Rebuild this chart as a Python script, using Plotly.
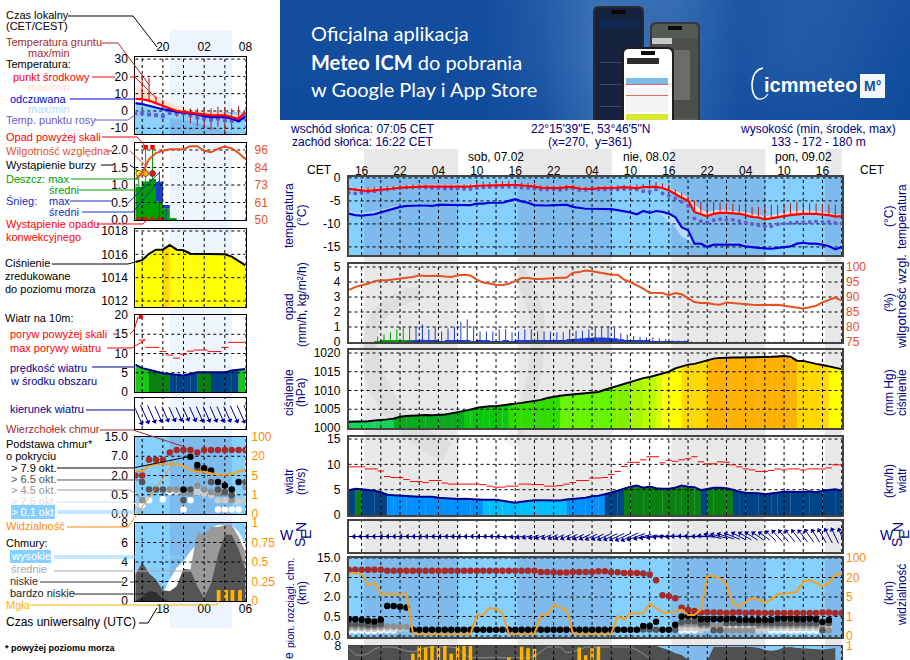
import numpy as np
import plotly.graph_objects as go

W, H = 910, 660
FONT = "Liberation Sans"

# ---------- main panel data, hourly from t=-2 (14:00 CET) to t=75 ----------
temp_mid = [-2.4,-2.6,-2.7,-2.8,-2.7,-2.6,-2.4,-2.3,-2.1,-2.0,-1.9,-1.85,
 -1.85,-1.9,-1.9,-2.0,-2.0,-1.9,-1.9,-1.9,-1.7,-1.6,
 -1.6,-1.6,-1.55,-1.5,-1.5,-1.6,-1.7,-1.9,-2.1,-2.1,
 -2.2,-2.2,-2.0,-2.0,-2.3,-2.4,-2.4,-2.2,-2.2,-2.1,
 -2.1,-2.0,-2.1,-2.2,-2.0,-1.9,-1.9,-2.2,-2.7,-3.5,
 -4.3,-4.9,-7.4,-7.9,-8.3,-7.8,-7.6,-7.6,-7.7,-7.8,
 -8.1,-8.5,-8.6,-9.0,-8.8,-8.5,-8.3,-8.1,-7.9,-7.8,
 -7.8,-7.8,-8.0,-8.1,-8.4,-8.3]
temp_max = [-2.1,-2.2,-2.3,-2.4,-2.3,-2.2,-2.0,-1.9,-1.7,-1.6,-1.5,-1.45,
 -1.45,-1.5,-1.5,-1.6,-1.6,-1.5,-1.5,-1.5,-1.4,-1.3,
 -1.3,-1.3,-1.25,-1.2,-1.2,-1.3,-1.4,-1.6,-1.8,-1.8,
 -1.9,-1.9,-1.7,-1.7,-2.0,-2.1,-2.1,-1.9,-1.9,-1.8,
 -1.8,-1.7,-1.8,-1.9,-1.7,-1.6,-1.6,-1.8,-2.2,-2.8,
 -3.4,-4.2,-5.8,-7.0,-7.4,-7.1,-7.0,-7.1,-7.2,-7.2,
 -7.4,-7.8,-8.0,-8.4,-8.1,-7.8,-7.5,-7.2,-7.1,-7.0,
 -7.1,-7.2,-7.5,-7.6,-8.0,-7.9]
feels_mid = [-7.75,-8.1,-8.2,-8.1,-7.9,-7.5,-7.1,-6.7,-6.3,-6.1,-6.0,-6.0,
 -6.0,-6.1,-5.8,-5.8,-5.9,-5.9,-5.9,-5.9,-5.6,-5.6,
 -5.4,-5.4,-5.4,-5.0,-4.6,-5.1,-5.4,-5.9,-6.0,-6.0,
 -5.9,-5.9,-5.8,-6.3,-6.5,-6.7,-6.7,-6.7,-6.7,-6.8,
 -7.0,-7.2,-7.5,-7.9,-7.2,-7.6,-7.2,-7.4,-7.75,-8.5,
 -10.7,-11.4,-14.3,-14.3,-15.0,-14.5,-14.5,-14.5,-14.4,-14.5,
 -14.9,-15.1,-15.2,-15.3,-15.4,-15.2,-15.0,-14.9,-14.3,-14.1,
 -14.3,-14.3,-14.5,-14.8,-15.5,-15.0]
feels_max = [-7.2,-7.5,-7.6,-7.5,-7.3,-6.9,-6.5,-6.2,-5.9,-5.7,-5.6,-5.6,
 -5.6,-5.7,-5.4,-5.4,-5.5,-5.5,-5.5,-5.5,-5.3,-5.3,
 -5.1,-5.1,-5.1,-4.8,-4.4,-4.8,-5.1,-5.6,-5.7,-5.7,
 -5.6,-5.6,-5.5,-6.0,-6.2,-6.4,-6.4,-6.4,-6.4,-6.5,
 -6.7,-6.9,-7.2,-7.5,-6.9,-7.2,-6.9,-7.1,-7.4,-8.2,
 -10.3,-11.0,-14.0,-14.0,-14.7,-14.2,-14.2,-14.2,-14.0,-14.1,
 -14.5,-14.8,-14.9,-15.0,-15.1,-14.9,-14.7,-14.5,-14.0,-13.8,
 -13.9,-13.9,-14.1,-14.4,-15.0,-14.6]
feels_min = [-7.85,-8.2,-8.3,-8.2,-8.0,-7.6,-7.2,-6.8,-6.4,-6.2,-6.1,-6.1,
 -6.1,-6.2,-5.9,-5.9,-6.0,-6.0,-6.0,-6.0,-5.7,-5.7,
 -5.5,-5.5,-5.5,-5.1,-4.7,-5.2,-5.5,-6.0,-6.1,-6.1,
 -6.0,-6.0,-5.9,-6.4,-6.6,-6.8,-6.8,-6.8,-6.8,-6.9,
 -7.1,-7.3,-7.6,-8.0,-7.4,-7.7,-7.4,-8.2,-9.6,-10.7,
 -12.8,-13.5,-14.4,-14.4,-15.1,-14.6,-14.6,-14.6,-14.5,-14.6,
 -15.0,-15.2,-15.3,-15.4,-15.5,-15.3,-15.1,-15.0,-14.4,-14.2,
 -14.4,-14.4,-14.6,-14.9,-15.6,-15.1]
dew_point = [-3.2,-3.4,-3.2,-3.0,-2.9,-2.7,-2.5,-2.3,-2.2,-2.1,-2.1,-2.1,
 -2.1,-2.2,-2.2,-2.3,-2.3,-2.3,-2.4,-2.4,-2.2,-2.1,
 -2.0,-2.0,-2.0,-1.9,-2.0,-2.1,-2.2,-2.3,-2.5,-2.5,
 -2.5,-2.6,-2.4,-2.3,-2.6,-2.6,-2.5,-2.5,-2.5,-2.5,
 -2.5,-2.4,-2.4,-2.5,-2.9,-3.0,-2.5,-3.4,-3.9,-4.5,
 -5.2,-6.1,-8.8,-9.4,-9.7,-9.2,-9.0,-9.1,-9.1,-9.4,
 -9.7,-10.0,-10.3,-10.5,-10.5,-10.1,-9.9,-9.8,-9.7,-9.6,
 -9.6,-9.5,-9.6,-9.6,-9.8,-9.9]
ground_max = [-2.0,-2.1,-2.1,-2.1,-2.0,-2.0,-1.8,-1.8,-1.6,-1.5,-1.4,-1.4,
 -1.4,-1.5,-1.5,-1.5,-1.5,-1.5,-1.4,-1.4,-0.9,-0.8,
 -0.9,-0.8,-0.7,-0.6,-0.7,-1.0,-1.1,-1.3,-1.6,-1.6,
 -1.7,-1.7,-1.5,-1.5,-1.8,-1.9,-1.9,-1.8,-1.8,-1.7,
 -1.6,-1.5,-1.5,-1.4,-1.3,-1.0,-0.9,-1.2,-1.5,-2.5,
 -3.2,-4.0,-4.9,-5.2,-5.2,-5.2,-5.4,-5.5,-5.6,-5.8,
 -6.0,-6.3,-6.3,-6.2,-5.8,-5.8,-5.6,-5.5,-5.2,-5.3,
 -5.5,-5.6,-5.7,-5.8,-5.8,-5.9]
humidity = [92.4,93.3,93.9,94.4,95.3,95.6,95.6,95.8,96.1,96.4,96.7,97.2,
 97,97,97.1,96.8,96.7,97.2,97.4,97.2,95.8,94.8,
 94.4,94.1,93.9,94.4,95.3,96.3,96.3,96,96,96.2,
 96.3,96.4,96.4,98.1,98.3,98.8,98.6,98.3,97.8,97.4,
 97.4,95.8,95,93.9,92.8,91.4,91.4,91.3,90.6,91.3,
 90.9,89.7,88.3,88,88,87.6,87.4,88.2,88,87.7,
 87.4,87.4,87.3,87.3,87.4,87.4,87.1,86.8,86.4,86.2,
 86.6,87.1,88.2,89.1,89.8,88.8]
rain_max = [0,0,0,0,.37,.5,.65,.82,.95,1.07] + [0]*68
rain_mean = [0,0,0,0,.02,.1,.1,.1,.12,.1] + [0]*68
snow_max = [0]*10 + [1.0,1.17,.85,1.0,.7,.9,1.0,1.35,1.5,1.05,.7,.7,.7,.85,.85,.65,.7,.85,.85,.7,.7,.7,.65,.65,
 .85,.75,.75,.85,1.0,1.05,1.0,.95,.6,.5,.4,.35,.3,.3,.25,.2,.1,.1,.1,.05,.03,.03,.03,.03,.03,.03,.03,.03,
 .03,.03,.03,.03,.03,.03,.02,.02,.02,.02,.02,.02,.02,.02,.02,.02]
snow_mean = [0]*9 + [.03,.12,.15,.12,.08,.03,.08,.08,.1,.1,.05,.08,.07,.05,.05,.07,.06,.08,.1,.1,.12,.13,.14,.14,
 .14,.2,.22,.25,.28,.3,.3,.28,.25,.18,.12,.1,.08,.07,.06,.05,.04,.03,.02,.01] + [0]*25
pressure = [1001.7,1001.7,1001.7,1001.8,1002,1002.1,1002.3,1002.5,1003,1003.2,1003.3,1003.5,
 1003.5,1003.4,1003.4,1003.6,1003.9,1004.2,1004.5,1004.9,1005.4,1005.7,
 1005.8,1005.8,1006.1,1006.4,1006.5,1006.7,1006.9,1007.1,1007.5,1008,
 1008.4,1008.6,1008.8,1009,1009.1,1009.2,1009.4,1009.6,1010.2,1010.7,
 1011.2,1011.8,1012.4,1012.9,1013.3,1013.6,1014,1014.5,1015,1015.9,
 1016.5,1016.9,1017.1,1017.6,1018.1,1018.5,1018.7,1018.8,1018.8,1018.8,
 1018.8,1018.8,1018.85,1018.9,1019,1019.1,1019.2,1019,1017.95,1017.9,
 1017.4,1017.1,1016.8,1016.4,1016,1015.7]
wind = [4.9,5.2,5.1,5,4.8,4.5,4.0,3.9,3.8,3.7,3.6,3.6,
 3.6,3.6,3.4,3.3,3.2,3.15,3.2,3.1,3.1,3,
 3,3,2.8,2.6,2.4,2.6,2.8,2.9,2.9,2.9,
 2.85,2.85,3.05,3.2,3.3,3.4,3.7,3.8,4.1,4.4,
 4.8,5.2,5.6,5.8,5.4,5.6,5.3,5.2,5.2,5.4,
 5.8,5.6,5.5,4.9,5.2,5.4,5.4,5.3,5,4.6,
 4.4,4.4,4.3,4.1,4.3,4.5,4.6,4.6,4.6,4.55,
 4.7,4.5,4.8,4.9,5.1,4.8]
gust = [9.5,9.5,9.5,9.1,9.1,8.7,7.6,7.4,7.4,7,6.6,6.6,
 6.4,6.8,6.8,6.3,6.1,6.1,6.1,6.1,6.1,6,
 5.7,5.5,5.5,5.7,5.7,6.1,6.1,6,6,5.7,
 5.7,5.8,6.1,6.4,6.8,6.8,7.3,7.3,7.4,8,
 8.6,9.6,10.4,10.4,10.9,11.5,11.5,10.3,10.8,10.6,
 10.9,11.1,11.5,10.5,10.1,10.1,10.5,10.4,9.9,9.5,
 9.1,8.9,8.6,8.6,8.8,9.1,8.9,9.1,9.1,8.9,
 9.1,9.1,9.1,9.3,9.9,9.9]
wind_dir = [270]*25 + [262,260,258,255,252,250,248,246,245,245,245,245,245,245,245,245,245,245,245,245,
 250,255,260,262,265,268,270,272,272,272,272,275,285,285,288,292,298,300,302,304,306,315,318,320,320,322,322,325,328,330,332,335,338]
cloud_top = [10.2]*6 + [9.8]*24 + [9.3,9.3,9.2,9.1,9.1,9.3,9.3,9.3,9.3,9.6,9.6,9.2,9.2,8.8,8.8,8.8,8.6,8.2,6.3,2.45,2.2,1.9,1.18,1.0,.92,
 .8,.82,.8,.8,.78,.8,.82,.78,.8,.78,.78,.78,.78,.78,.78,.78,.78,.78,.78,.8,.8,.78,.78]
N = None
base_79 = [.43,.43,.42,.39,.37,.42,1.3,1.3,1.25,1.2] + [.16]*36 + [.26,.26,.365,.16,.16,.29,.51,.55,.55,.43,.43,.43,.43,.43,.45,.42,.42,.41,.41,.41,.41,.45,.45,.45,.43,.43,.45,.43,.36,.41]
base_65 = [.3,.3,.3,.28,.28,.3,N,N,N,N] + [N]*36 + [.17,.17,.16,N,N,.16,.36,.38,.38,.33,.33,.15,.15,.33,.33,.33,.33,.33,.33,.33,.33,.33,.33,.33,.33,.33,.33,.33,.15,.33]
base_45 = [.24,.24,.24,.23,.23,.24,.25,.25,.24,.24] + [N]*36 + [N,N,N,N,N,N,.3,.3,.3,.27,.27,.27,.27,.14,.14,.14,.14,.14,.27,.27,.27,.27,.27,.27,.27,.27,.27,.27,.27,.14]
base_25 = [.19,.19,.19,.18,.18,.19,.19,.19,.19,.2] + [N]*36 + [N,N,N,N,N,N,.2,.2,.2,.14,.2,.2,.2,.2,.2,.2,.2,.2,.14,.14,.2,.2,.2,.2,.2,.2,.2,.2,.2,.2]
base_01 = [.14,.14,.14,.13,.13,.14,.14,.14,N,N] + [N]*36 + [N,N,N,N,N,N,.14,.14,.14,N,N,N,N,N,N,N,N,N,N,N,.14,.14,.14,.14,.14,.14,.14,.14,N,N]
visibility = [38,38,34,14,16,7.4,7.4,7.4,7.2,6.9,.17,.09,
 .09,.09,.09,.09,.09,.09,.09,.09,1.3,1.4,
 2.8,2.5,1.8,.12,.1,.1,.1,.1,1.3,1.3,
 3.4,2.8,2.3,.15,.1,.1,.1,.1,.1,.1,
 1.1,.85,1.6,1.7,1.7,3.6,2.8,1.8,1.8,2.0,
 2.4,1.3,1.3,2.4,25,27,19,15,3.6,3.1,
 4,4.8,4.5,3.8,4.5,7.4,7.4,8,9,17,
 18,16,13,16,32,32,3.1,25]
cloud_low_top = [8]*49 + [7.8,7.6,7.25,7.08,6.6,5,5,6.5,7.9,7.9,7.9,7.9,7.9,7.9,7.9,7.8,7.6,7.5,7.6,7.85,7.9,7.8,7.75,7.7,7.7,7.65,7.7,7.8]
cloud_mid_top = [7.75,7.1,7.05,7.2,7.7,7.9,7.9,7.9,7.7,7.5,7.4,7.6,7.8,7.9,7.9,7.9,7.9,7.8,7.1,6.8,6.8,6.8,6.8,6.8,6.8,6.8,6.8,6.8,6.8,6.9,7.4,7.9,7.9,7.9,7.3,7.4,7.6,7.9,7.9,7.9,7.9,7.95,7.95,7.95,7.9,7.6,7.2,6.7]
fog_hours = [8,9,10,11,12,13,14,15,16,17,23,25,26,27,34,35,36,37]
fog_values = [.9,1,.98,1,.98,1,.9,1,1,1,.85,.99,.97,.96,.98,.88,.97,.99]

main_hour_ticks = ["16","22","04","10","16","22","04","10","16","22","04","10","16"]

# ---------- legend panel sample data, hourly (17 points) ----------
lg_mid = [7,6.8,6,4.5,3,1.5,0,-.5,-1,-1.5,-2,-2.5,-2.5,-2.5,-3.5,-4.5,-.5]
lg_max = [14,13,11,9,7,5,3,2,1,.5,0,-.5,-.5,-1,-2,-2,0]
lg_feels = [4.5,4,3,2,1,.5,-.5,-1,-1.5,-2,-3,-3.5,-3.5,-3.5,-4.5,-6,-3]
lg_feels_min = [-13,-13,-13,-13,-13,-4,-4.5,-5,-6,-7,-8,-9,-10,-12,-12,-10,-5]
lg_ground_top = [N,20.9,19,8.3,6.4,.6,-.4,-.4,1.5,1.5,1.5,1.5,2.5,1.5,1.5,2.9,N]
lg_ground_bot = [N,5,5,4,2,-2.3,-3.3,-6.2,-7.1,-8.7,-9.1,-11,-9.1,-12.9,-11,-5.2,N]
lg_dew = [-1.5,-1.2,-2,-2.4,-3,-1,-1.4,-1.4,-2.4,-3.7,-4.3,-4.9,-4.3,-5.3,-5.6,-5.3,-4.3]
lg_hum = [76.8,81,90,94,95.5,96.5,96.5,96.5,98.5,98.5,95.5,94.5,96.8,98.2,97,94,90]
lg_rain = [.95,1.1,1.17,.52,.33,.05]+[0]*11
lg_snow = [0,0,0,.57,.1,0]+[0]*11
lg_rain_max = [1.33,2.08,2.08,0,0,0]+[0]*11
lg_snow_max = [0,0,0,1.38,.42,0]+[0]*11
lg_press = [1015.35,1015.5,1016.05,1016.4,1016.4,1016.8,1016.4,1016.35,1016.05,1016.05,1016.05,1016.05,1016.05,1016,1015.8,1015.4,1015.05]
lg_wind = [7.1,6.2,5.8,5.3,4.9,4.7,4.5,4.3,4.7,5.1,5.1,5.1,5.1,5.1,5.6,5.8,6.0]
lg_gust = [N,13.5,11.6,11.6,10.5,9.6,8.8,9.8,10.6,10.9,10.9,10.5,10.5,11.6,12.9,12.9,12.9]
lg_top = [2,2,6.1,6.1,6.1,8.6,9.6,9.6,9.6,8.6,9.6,9.6,9.6,9.6,9.6,9.6,9.6]
lg_79 = [N,N,N,N,N,N,N,.9,6.9,4.7,3.9,3.3,1.5,1.23,.9,1.5,N]
lg_65 = [N,1.5,.9,.9,.9,N,N,.36,.9,3.7,3.3,1.5,.9,.72,.49,N,1.5]
lg_45 = [N,.36,N,N,N,.9,.9,.59,.59,1.2,.9,.72,.64,.59,.36,N,1.1]
lg_25 = [.23,N,N,N,N,.9,.72,N,N,.72,.59,.49,.36,.36,.36,.32,.36]
lg_01 = [N,.23,.36,N,.38,.72,N,.12,.36,.72,.72,.59,.12,.12,.12,.12,N]
lg_vis = [8.3,8.3,12.5,14,14,14,14,12.5,9.4,8,8,6.8,5.5,5.5,6.2,8.3,9.4]
lg_high = [0,0,0,0,.8,2.2,3.4,4.1,5.1,5.9,5.9,7.5,7.8,7.8,7.8,7.1,5.9]
lg_midc = [0,0,0,0,0,0,0,2.6,3.2,7.1,6.8,7.6,7.6,7.8,7.8,6.6,5]
lg_low = [2.7,3.95,2.85,2.2,1.1,1,1.5,3.3,3.2,1.5,.3,1.8,4.7,6.8,6.8,5.3,3.2]
lg_vlow = [0,.4,1,.9,.2,0,0,0,0,0,0,0,0,0,0,0,0]
lg_fog_h = [12.1,13.2,14.1,15.2]
lg_fog = [.14,.14,.14,.14]

# ---------- helpers ----------
KM = [0,.5,2,7,15]; VIS = [0,1,5,20,100]; STEP = [0,1,2,3,4]
def km_u(a): return np.interp(np.array(a, dtype=float), KM, STEP)
def vis_u(a): return np.interp(np.array(a, dtype=float), VIS, STEP)
def X(p): return p / W
def Y(p): return 1 - p / H
def mids(a):
    b=np.array(a,dtype=float)
    return np.append((b[:-1]+b[1:])/2,b[-1])

fig = go.Figure()
layout = dict(width=W, height=H, margin=dict(l=0,r=0,t=0,b=0,pad=0,autoexpand=False), paper_bgcolor="white",
              plot_bgcolor="rgba(0,0,0,0)", showlegend=False, barmode="overlay",
              font=dict(family=FONT, size=12, color="black"), hovermode=False)
shapes_below, shapes_above, notes = [], [], []
axn = 0

def rect(x0,y0,x1,y1,fill,layer="below"):
    s = dict(type="rect",xref="paper",yref="paper",x0=X(x0),x1=X(x1),y0=Y(y0),y1=Y(y1),fillcolor=fill,line=dict(width=0))
    (shapes_below if layer=="below" else shapes_above).append(s)

def pth(pts,color,width=1,closed=False,fill=None,layer="above"):
    d = "M " + " L ".join(f"{X(x):.5f},{Y(y):.5f}" for x,y in pts) + (" Z" if closed else "")
    s = dict(type="path",xref="paper",yref="paper",path=d,line=dict(color=color,width=width))
    if fill: s["fillcolor"]=fill
    (shapes_below if layer=="below" else shapes_above).append(s)

def curve(d,color,width,layer="below",fill=None):
    toks=[]
    for tk in d.split():
        if tk.isalpha(): toks.append(tk)
        else:
            a,b=tk.split(","); toks.append(f"{X(float(a)):.5f},{Y(float(b)):.5f}")
    s=dict(type="path",xref="paper",yref="paper",path=" ".join(toks),line=dict(color=color,width=width))
    if fill: s["fillcolor"]=fill
    (shapes_below if layer=="below" else shapes_above).append(s)

def text(x,y,s,color="black",size=11,anchor="left",angle=0,family=FONT):
    notes.append(dict(xref="paper",yref="paper",x=X(x),y=Y(y),text=s,showarrow=False,xanchor=anchor,yanchor="middle",
                      textangle=angle,font=dict(family=family,size=size,color=color),borderpad=0,borderwidth=0))

def panel(l,r,top,bot,xr,yr,yticks,ylabels,rr=None,rticks=None,rlabels=None,rcolor="black",xticks=None,xlabels=None,xside="bottom",
          framecolor="black",framew=1,lstand=4,rstand=4,xstand=1):
    global axn
    axn += 1; n = axn; xa=f"x{n}"; ya=f"y{n}"
    layout[f"xaxis{n}"] = dict(domain=[X(l),X(r)],range=xr,anchor=ya,showgrid=False,zeroline=False,showline=True,mirror=True,
        linecolor=framecolor,linewidth=framew,ticks="",layer="above traces",side=xside,
        showticklabels=xticks is not None,tickvals=xticks,ticktext=xlabels,tickangle=0,tickfont=dict(family=FONT,size=12,color="black"),
        ticklabelstandoff=xstand)
    layout[f"yaxis{n}"] = dict(domain=[Y(bot),Y(top)],range=yr,anchor=xa,showgrid=False,zeroline=False,showline=True,mirror=True,
        linecolor=framecolor,linewidth=framew,ticks="",layer="above traces",
        showticklabels=yticks is not None,tickvals=yticks,ticktext=ylabels,tickfont=dict(family=FONT,size=12,color="black"),
        ticklabelstandoff=lstand)
    ra=None
    if rr is not None:
        axn += 1; m=axn; ra=f"y{m}"
        layout[f"yaxis{m}"] = dict(domain=[Y(bot),Y(top)],range=rr,anchor=xa,overlaying=ya,side="right",showgrid=False,zeroline=False,
            showline=False,ticks="",tickvals=rticks,ticktext=rlabels,tickfont=dict(family=FONT,size=12,color=rcolor),ticklabelstandoff=rstand)
    return xa,ya,ra

def grid(xa,ya,xt,yt,xr,yr):
    xs,ys=[],[]
    for v in xt: xs+= [v,v,None]; ys+=[yr[0],yr[1],None]
    for v in yt: xs+= [xr[0],xr[1],None]; ys+=[v,v,None]
    fig.add_trace(go.Scatter(x=xs,y=ys,mode="lines",xaxis=xa,yaxis=ya,line=dict(color="black",width=1,dash="3px,3px"),hoverinfo="skip"))

def line(x,y,xa,ya,color,w=2,dash=None):
    fig.add_trace(go.Scatter(x=x,y=y,mode="lines",xaxis=xa,yaxis=ya,line=dict(color=color,width=w,dash=dash),hoverinfo="skip"))
def band(x,hi,lo,xa,ya,color):
    fig.add_trace(go.Scatter(x=x,y=hi,mode="lines",xaxis=xa,yaxis=ya,line=dict(width=0),hoverinfo="skip"))
    fig.add_trace(go.Scatter(x=x,y=lo,mode="lines",xaxis=xa,yaxis=ya,line=dict(width=0),fill="tonexty",fillcolor=color,hoverinfo="skip"))
def dots(x,y,xa,ya,color,size=6.5,sym="circle"):
    fig.add_trace(go.Scatter(x=x,y=y,mode="markers",xaxis=xa,yaxis=ya,marker=dict(color=color,size=size,symbol=sym,line=dict(width=0)),hoverinfo="skip"))
def bars(x,y,xa,ya,colors,width=1.03,base=None):
    fig.add_trace(go.Bar(x=x,y=y,base=base,xaxis=xa,yaxis=ya,width=width,marker=dict(color=colors,line=dict(width=0)),hoverinfo="skip"))
def sticks(x,hi,lo,xa,ya,color,w=1):
    xs,ys=[],[]
    for a,b,c in zip(x,hi,lo):
        if b is None or c is None or (b==0 and c==0): continue
        xs+=[a,a,None]; ys+=[c,b,None]
    fig.add_trace(go.Scatter(x=xs,y=ys,mode="lines",xaxis=xa,yaxis=ya,line=dict(color=color,width=w),hoverinfo="skip"))
def segs(x,y,xa,ya,color,w=1):
    xs,ys=[],[]
    for a,b in zip(x,y):
        if b is None: continue
        xs+=[a-.5,a+.5,None]; ys+=[b,b,None]
    fig.add_trace(go.Scatter(x=xs,y=ys,mode="lines",xaxis=xa,yaxis=ya,line=dict(color=color,width=w),hoverinfo="skip"))
def arrows(x,spd,ang,xa,ya,pxh,col="#000090",pxm=3.0,hsize=5):
    xs,ys,hx,hy=[],[],[],[]
    for a,s,d in zip(x,spd,ang):
        r=np.radians(d); L=s*pxm
        dx=np.sin(r)*L/2/pxh; dy=np.cos(r)*L/2
        xs+=[a-dx,a+dx,None]; ys+=[-dy,dy,None]; hx.append(a+dx); hy.append(dy)
    fig.add_trace(go.Scatter(x=xs,y=ys,mode="lines",xaxis=xa,yaxis=ya,line=dict(color=col,width=1),hoverinfo="skip"))
    fig.add_trace(go.Scatter(x=hx,y=hy,mode="markers",xaxis=xa,yaxis=ya,marker=dict(symbol="triangle-up",size=hsize,color=col,angle=list(ang),line=dict(width=0)),hoverinfo="skip"))

def press_color(p):
    for lim,c in [(1002.4,"#14D25A"),(1004.4,"#0AAA1E"),(1006.4,"#0CC80C"),(1008.5,"#30DC00"),(1010.5,"#66F500"),(1012,"#80F000"),
                  (1013,"#A8F500"),(1013.7,"#BCFF00"),(1014.5,"#D8FF00"),(1016.45,"#FFFF00"),(1018,"#FFD800")]:
        if p<lim: return c
    return "#FFB000"
def wind_color(v):
    for lim,c in [(3.05,"#00BEFF"),(4.05,"#0090FF"),(5.2,"#004488"),(6.0,"#0A8010")]:
        if v<lim: return c
    return "#18C818"

# ---------- page furniture ----------
DAY, NIGHT = "#86D0FF", "#7EBBEC"
LPX=(135.3,245.5); MPX=(348.5,842.0)
def tx(t): return 361.7 + 6.4*t
SET1,RISE=0.37,15.08
night=[(SET1,RISE),(SET1+24,RISE+24),(SET1+48,RISE+48),(SET1+72,75)]
for a,b in night:
    rect(max(tx(a),280),149,min(tx(b),MPX[1]),660,"#E8E8E8")
# faint watermark swirl
wm="rgba(0,0,0,0.045)"
curve("M 367,345 Q 378,420 447,452",wm,20)
curve("M 367,350 Q 372,300 420,293",wm,14)
curve("M 513,263 Q 545,310 537,350 Q 535,395 510,445",wm,14)
rect(170,30,232,628,"#EEF4FD")
# sky fills of the blue panels
def sky_main(top,bot):
    rect(MPX[0],top,MPX[1],bot,DAY)
    for a,b in night: rect(max(tx(a),MPX[0]),top,min(tx(b),MPX[1]),bot,NIGHT)
def sky_left(top,bot):
    rect(LPX[0],top,LPX[1],bot,DAY); rect(170,top,232,bot,NIGHT)
sky_main(177,255); sky_main(558,637); sky_main(646,660)
sky_left(112,134); sky_left(437,514); sky_left(523,601)

# ---------- banner ----------
bx=[280,480,540,600,680,740,790,830,910]
bz=[[.05,.05,.35,.85,.7,.25,.35,.35,.15],[.05,.05,.3,.9,.6,.2,.35,.3,.05],[0,0,.15,.7,.5,.1,.1,.1,0]]
axn+=1; nb=axn
layout[f"xaxis{nb}"]=dict(domain=[X(280),1],range=[280,910],anchor=f"y{nb}",visible=False)
layout[f"yaxis{nb}"]=dict(domain=[Y(120),1],range=[2,0],anchor=f"x{nb}",visible=False)
fig.add_trace(go.Heatmap(x=bx,y=[0,1,2],z=bz,xaxis=f"x{nb}",yaxis=f"y{nb}",zsmooth="best",showscale=False,hoverinfo="skip",
    zmin=0,zmax=1,colorscale=[[0,"#0F4B9C"],[1,"#4379BB"]]))
def phone(x0,y0,x1,r,frame,screen):
    d=lambda a,b,rad:f"M {a+rad},{b} L {x1-(a-x0)-rad},{b} Q {x1-(a-x0)},{b} {x1-(a-x0)},{b+rad} L {x1-(a-x0)},120 L {a},120 L {a},{b+rad} Q {a},{b} {a+rad},{b} Z"
    curve(d(x0,y0,r),"rgba(0,0,0,0)",0,"above",fill=frame)
    curve(d(x0+2,y0+2,r-1),"rgba(0,0,0,0)",0,"above",fill=screen)
    rect((x0+x1)/2-7,y0+4,(x0+x1)/2+7,y0+8,"#0A0A0A","above")
phone(593,6,644,6,"#2A2A30","#15233E")
rect(600,20,638,28,"#0E2A52","above"); rect(600,62,638,63,"#3A4A66","above"); rect(600,84,638,85,"#3A4A66","above"); rect(600,106,638,107,"#3A4A66","above")
phone(650,22,700,6,"#38383C","#555A55")
rect(652,38,698,118,"#4C5048","above"); rect(665,50,690,100,"#6A6E66","above"); rect(652,38,672,44,"#C8C8C8","above")
phone(622,47,674,6,"#1E1E20","#FFFFFF")
rect(627,58,659,64,"#2D2D30","above"); rect(626,78,668,84,"#7ABBE8","above"); rect(626,84,668,85,"#E06060","above"); rect(626,88,668,112,"#F4F4F4","above"); rect(626,114,668,120,"#D8E830","above")
rect(626,95,668,96,"#D87060","above")
text(311,33,"Oficjalna aplikacja","white",20,family="Lato")
text(311,62,"<b>Meteo ICM</b> do pobrania","white",20,family="Lato")
text(311,89,"w Google Play i App Store","white",20,family="Lato")
text(764,85,"<b>icmmeteo</b>","white",20)
rect(860,74,885,98,"#F2F6FB","above")
text(872.5,86,"<b>M°</b>","#1450A0",14,"center")
curve("M 763,68 Q 753,70 752,84 Q 752,96 758,99","#FFFFFF",1.6,"above")
curve("M 758,99 Q 764,100 768,94","#FFFFFF",1.2,"above")

# ---------- header ----------
NAVY="#000080"
text(290,129,"wschód słońca: 07:05 CET",NAVY,12)
text(292,142,"zachód słońca: 16:22 CET",NAVY,12)
text(590,129,"22°15'39\"E, 53°46'5\"N",NAVY,12,"center")
text(590,142,"(x=270,  y=361)",NAVY,12,"center")
text(818,129,"wysokość (min, środek, max)",NAVY,12,"center")
text(818,142,"133 - 172 - 180 m",NAVY,12,"center")
text(496,157,"sob, 07.02","black",12,"center"); text(649.5,157,"nie, 08.02","black",12,"center"); text(803,157,"pon, 09.02","black",12,"center")
text(319,170.5,"CET","black",12,"center"); text(872,170.5,"CET","black",12,"center")

# ---------- main column ----------
t=np.arange(-2,76); xr=[-2.05,75.05]; xg=list(range(0,76,3))
ORH="#E8501E"; ORV="#FF8C00"
nb2="\u00a0\u00a0"
mf="#444444"
# temperature
ax,ay,ar=panel(*MPX,177,255,xr,[-16.76,.2],[0,-5,-10,-15],["0","-5","-10","-15"],[-16.76,.2],[0,-5,-10,-15],[nb2+nb2+"0",nb2+"-5","-10","-15"],
               xticks=list(range(0,73,6)),xlabels=main_hour_ticks,xside="top",framecolor=mf,framew=1.5,rstand=3,xstand=-5)
band(t,feels_max,feels_min,ax,ay,"#B4DEFF")
band(t,temp_max,temp_mid,ax,ay,"#FFD4D4")
grid(ax,ay,xg,[0,-5,-10,-15],xr,[-16.76,.2])
sticks(t,ground_max,temp_mid,ax,ay,"#A51E1E",1)
dots(t,dew_point,ax,ay,"#6A5ACD",4,"circle")
line(t,feels_mid,ax,ay,"#0000E0",2.2)
line(t,temp_mid,ax,ay,"#FF0000",2.2)
# precipitation + humidity
ax,ay,ar=panel(*MPX,264,342,xr,[0,5.2],[0,1,2,3,4,5],["0","1","2","3","4","5"],[75,101],[75,80,85,90,95,100],["75","80","85","90","95","100"],ORH,framecolor=mf,framew=1.5,rstand=3)
tp=t+.5
bars(tp,rain_mean,ax,ay,"#00A000")
bars(tp,snow_mean,ax,ay,"#1E3CC8")
grid(ax,ay,xg,[1,2,3,4,5],xr,[0,5.2])
sticks(tp,rain_max,[0]*78,ax,ay,"#00A000",1)
sticks(tp,snow_max,[0]*78,ax,ay,"#1E3CC8",1)
line(t,humidity,ax,ar,ORH,2)
# pressure
ax,ay,ar=panel(*MPX,350,428,xr,[1000,1020.8],[1000,1005,1010,1015,1020],["1000","1005","1010","1015","1020"],[750,765.6],[750,753.75,757.5,761.25,765],["750","754","758","761","765"],framecolor=mf,framew=1.5,rstand=3)
bars(tp,mids(pressure),ax,ay,[press_color(p) for p in pressure])
grid(ax,ay,xg,[1005,1010,1015,1020],xr,[1000,1020.8])
line(t,pressure,ax,ay,"black",2)
# wind
ax,ay,ar=panel(*MPX,437,515,xr,[0,15.4],[0,5,10,15],["0","5","10","15"],[0,55.44],[0,18,36,54],["0","18","36","54"],framecolor=mf,framew=1.5,rstand=3)
bars(tp,mids(wind),ax,ay,[wind_color(v) for v in wind])
grid(ax,ay,xg,[5,10,15],xr,[0,15.4])
segs(t,gust,ax,ay,"#FF0000",1)
line(t,wind,ax,ay,"#00008B",2)
# wind direction
ax,ay,ar=panel(*MPX,521,552,xr,[-15.5,15.5],None,None,framecolor=mf,framew=1.5)
grid(ax,ay,xg,[],xr,[-15.5,15.5])
arrows(t,wind,wind_dir,ax,ay,6.4)
# cloud base
ax,ay,ar=panel(*MPX,558,637,xr,[-.05,4],[0,1,2,3,4],["0.0","0.5","2.0","7.0","15.0"],[-.05,4],[0,1,2,3,4],["0","1","5","20","100"],ORV,framecolor=mf,framew=1.5,rstand=3)
grid(ax,ay,xg,[0,1,2,3,4],xr,[-.05,4])
for ser,col in [(base_01,"#FFFFFF"),(base_25,"#CCCCCC"),(base_45,"#909090"),(base_65,"#555555"),(base_79,"#000000")]:
    dots(t,[None if v is None else float(km_u([v])[0]) for v in ser],ax,ay,col,6.5)
dots(t,km_u(cloud_top),ax,ay,"#A52A2A",6.5)
line(t,vis_u(visibility),ax,ar,"#F5A01E",2)
# clouds strip
ax,ay,ar=panel(*MPX,646,660,xr,[6.56,8],[8],["8"],[.82,1],[1],["1"],ORV,framecolor=mf,framew=1,rstand=3)
fig.add_trace(go.Scatter(x=t,y=cloud_low_top,mode="lines",xaxis=ax,yaxis=ay,fill="tozeroy",fillcolor="#505050",line=dict(color="#505050",width=0),hoverinfo="skip"))
line(t[:len(cloud_mid_top)],cloud_mid_top,ax,ay,"#8C8C8C",1)
bars(fog_hours,fog_values,ax,ar,"#FFB400",.55)
grid(ax,ar,xg,[],xr,[.82,1])

# ---------- legend column ----------
i=np.arange(17); lr=[0,16]; lg=[1,4,7,10,13,16]
YL,GD,LIME,DG,NV="#FFFF00","#FFD800","#18C818","#0A8010","#004488"
lg_press_col=[YL,YL,YL,YL,GD]+[YL]*12
lg_wind_col=[LIME,LIME,DG,DG,DG,NV,NV,NV,NV,DG,DG,NV,NV,NV,NV,LIME,LIME]
ip=i+.5
# temperature
ax,ay,ar=panel(*LPX,57,134,lr,[-13.3,31.2],[30,20,10,0,-10],["30","20","10","0","-10"],[-13.3,31.2],[30,20,10,0,-10],["30","20","10",nb2+"0","-10"],
               xticks=[4,10,16],xlabels=["20","02","08"],xside="top",rstand=8,xstand=0)
band(i,lg_max,lg_mid,ax,ay,"rgba(255,222,205,0.85)")
band(i,lg_feels,lg_feels_min,ax,ay,"#8CD2FF")
grid(ax,ay,lg,[30,20,10,0,-10],lr,[-13.3,31.2])
sticks(i,lg_ground_top,lg_ground_bot,ax,ay,"#A51E1E",1)
dots(i,lg_dew,ax,ay,"#6A5ACD",4,"square")
line(i,lg_feels,ax,ay,"#0000E0",2.2)
line(i,lg_mid,ax,ay,"#FF0000",2.2)
# precipitation
ax,ay,ar=panel(*LPX,143,220,lr,[0,2.2],[0,.5,1,1.5,2],["0.0","0.5","1.0","1.5","2.0"],[50,100.6],[50,61.5,73,84.5,96],["50","61","73","84","96"],ORH,rstand=8)
bars(ip,lg_rain,ax,ay,"#00A000")
bars(ip,lg_snow,ax,ay,"#1E3CC8",base=lg_rain)
grid(ax,ay,lg,[.5,1,1.5,2],lr,[0,2.2])
sticks(ip,lg_rain_max,[0]*17,ax,ay,"#00A000",1)
sticks(ip,lg_snow_max,[0]*17,ax,ay,"#1E3CC8",1)
dots([1.5,2.5],[2.08,2.08],ax,ay,"#FF0000",4.5,"square")
fig.add_trace(go.Scatter(x=[.5,1.5,2.5],y=[1.33,1.33,1.33],mode="markers",xaxis=ax,yaxis=ay,marker=dict(size=6,color=["#FFEE00","#FFB000","#E81010"],line=dict(color="#333",width=.7)),hoverinfo="skip"))
dots([.5,1.5,2.5,3.5],[.02,.02,.02,.02],ax,ay,"#FF0000",4,"square")
line(i,lg_hum,ax,ar,ORH,2)
# pressure
ax,ay,ar=panel(*LPX,229,307,lr,[1011.49,1018.17],[1012,1014,1016,1018],["1012","1014","1016","1018"],[1011.49,1018.17],[1012,1014,1016,1018],["1012","1014","1016","1018"],rstand=5)
bars(ip,mids(lg_press),ax,ay,lg_press_col)
grid(ax,ay,lg,[1012,1014,1016,1018],lr,[1011.49,1018.17])
line(i,lg_press,ax,ay,"black",2)
# wind
ax,ay,ar=panel(*LPX,315,392,lr,[0,20],[0,5,10,15,20],["0","5","10","15","20"],[0,72],[0,18,36,54,72],["0","18","36","54","72"],rstand=5)
bars(ip,mids(lg_wind),ax,ay,lg_wind_col)
grid(ax,ay,lg,[5,10,15],lr,[0,20])
segs(i,lg_gust,ax,ay,"#FF0000",1)
dots([.8],[19.5],ax,ay,"#FF0000",4,"square")
line(i,lg_wind,ax,ay,"#00008B",2)
# direction
ax,ay,ar=panel(*LPX,398,429,lr,[-15.5,15.5],None,None)
grid(ax,ay,lg,[],lr,[-15.5,15.5])
arrows(i+.3,lg_wind,[156]*17,ax,ay,6.89)
# cloud base
ax,ay,ar=panel(*LPX,437,514,lr,[0,4],[0,1,2,3,4],["0.0","0.5","2.0","7.0","15.0"],[0,4],[0,1,2,3,4],["0","1","5","20","100"],ORV,rstand=5)
grid(ax,ay,lg,[1,2,3],lr,[0,4])
for ser,col in [(lg_01,"#FFFFFF"),(lg_25,"#CCCCCC"),(lg_45,"#909090"),(lg_65,"#555555"),(lg_79,"#000000")]:
    dots(i,[None if v is None else float(km_u([v])[0]) for v in ser],ax,ay,col,6.5)
dots(i,km_u(lg_top),ax,ay,"#A52A2A",6.5)
line(i,vis_u(lg_vis),ax,ar,"#F5A01E",2)
# clouds
ax,ay,ar=panel(*LPX,523,601,lr,[0,8],[0,2,4,6,8],["0","2","4","6","8"],[0,1],[0,.25,.5,.75,1],["0","0.25","0.5","0.75","1"],ORV,
               xticks=[4,10,16],xlabels=["18","00","06"],rstand=5,xstand=-3)
for ser,col in [(lg_high,"#FFFFFF"),(lg_midc,"#999999"),(lg_low,"#555555"),(lg_vlow,"#303030")]:
    fig.add_trace(go.Scatter(x=i,y=ser,mode="lines",xaxis=ax,yaxis=ay,fill="tozeroy",fillcolor=col,line=dict(color=col,width=0),hoverinfo="skip"))
bars(lg_fog_h,lg_fog,ax,ar,"#FFB400",.55)
grid(ax,ar,lg,[.25,.5,.75],lr,[0,1])

# ---------- legend texts and leaders ----------
BR="#A52A2A"; RED="#FF0000"; GR="#00A000"; BL="#1030C8"; DBL="#000090"; PUR="#6A5ACD"
L=5.5
text(L,15,"Czas lokalny"); text(L,26,"(CET/CEST)")
pth([(68,16),(133,16),(157,47)],"black")
text(L,42,"Temperatura gruntu",BR); text(28,53,"max/min",BR)
pth([(102,43),(118,43),(150,86)],BR)
text(L,64,"Temperatura:")
text(12.5,77,"punkt środkowy",RED); pth([(92,77),(115,77)],RED); pth([(130,77),(135,77),(157,99)],RED)
text(28,87,"max/min","#FFDCCF")
text(10,99,"odczuwana","#0000DD"); pth([(70,99),(135,99)],"#0000DD")
text(28,109,"max/min","#ADDDFF")
text(L,120,"Temp. punktu rosy",PUR); pth([(95,120),(128,120),(136,114)],PUR)
text(L,137,"Opad powyżej skali",RED); pth([(102,137),(137,137),(146,147)],RED)
text(L,151,"Wilgotność względna",ORH); pth([(106,151),(112,151)],ORH); pth([(130,151),(147,167)],ORH)
text(L,165,"Wystąpienie burzy"); pth([(101,165),(113,165)],"black"); pth([(130,165),(138,171)],"black")
text(L,179,"Deszcz: max",GR); pth([(71,179),(139,179)],GR)
text(48.5,190,"średni",GR); pth([(79,190),(143,190)],GR)
text(L,201,"Śnieg:",BL); text(48.5,201,"max",BL); pth([(70,201),(112,201)],BL); pth([(128,203),(160,172)],BL)
text(48.5,212,"średni",BL); pth([(82,212),(133,212),(160,180)],BL)
text(L,224,"Wystąpienie opadu",RED); pth([(97,224),(143,224),(147,220)],RED)
text(L,237,"konwekcyjnego",RED)
text(5,263,"Ciśnienie"); pth([(52,264),(128,264),(135,262)],"black")
text(5,276,"zredukowane"); text(5,289,"do poziomu morza")
text(5,318,"Wiatr na 10m:")
text(10,334,"poryw powyżej skali",RED); pth([(113,334),(118,334)],RED); pth([(130,334),(134,330),(138,317)],RED)
text(10,348,"max porywy wiatru",RED); pth([(107,348),(132,348),(145,340)],RED)
text(10,368,"prędkość wiatru",DBL); pth([(92,367),(135,367)],DBL)
text(10,381,"w środku obszaru",DBL)
text(10,409,"kierunek wiatru",DBL); pth([(86,410),(135,410)],DBL)
text(L,429,"Wierzchołek chmur",BR); pth([(100,430),(133,430),(185,447)],BR)
text(L,444,"Podstawa chmur*"); text(L,456,"o pokryciu")
text(10.5,468,"> 7.9 okt."); pth([(57,468),(133,468),(192,456)],"black")
text(10.5,479,"> 6.5 okt.","#555555"); pth([(57,480),(143,480)],"#555555")
text(10.5,490,"> 4.5 okt.","#999999"); pth([(57,490),(130,490),(143,500)],"#999999")
text(10.5,501,"> 2.5 okt.","#DDDDDD"); pth([(57,502),(132,502),(137,505)],"#DDDDDD")
rect(11,505,55,519,"#86D0FF","below")
text(11,512,"> 0.1 okt.","white"); pth([(57,511),(135,511)],"#86D0FF"); pth([(57,513),(135,513)],"#86D0FF")
text(L,526,"Widzialność",ORV); pth([(67,527),(128,527),(172,465)],ORV)
text(L,543,"Chmury:")
rect(10,550,51,563,"#86D0FF","below")
text(10.5,556,"wysokie","white"); pth([(54,556),(186,556)],"#86D0FF"); pth([(54,558),(186,558)],"#86D0FF")
text(10.5,569,"średnie","#AAAAAA"); pth([(54,571),(192,571)],"#AAAAAA")
text(10,581,"niskie","#333333"); pth([(40,582),(123,582)],"#333333"); pth([(130,582),(136,582)],"#333333")
text(10,593,"bardzo niskie","#222222"); pth([(74,594),(148,594)],"#222222")
text(L,605,"Mgła","#FFB400"); pth([(30,605),(217,605),(219,593)],"#FFB400")
text(L,622,"Czas uniwersalny (UTC)",size=12); pth([(139,623),(148,623),(157,608)],"black")
text(5,648,"<b>* powyżej poziomu morza</b>","black",9)

# ---------- rotated main axis titles ----------
for x,y,s,sz in [(289,216,"temperatura",12),(302,216,"(°C)",12),(289,307,"opad",12),(302,305,"(mm/h, kg/m²/h)",12),(289,393,"ciśnienie",12),(301,393,"(hPa)",12),
              (289,482,"wiatr",12),(301,482,"(m/s)",12),(290,603,"pion. rozciągł. chm.",10.5),(302,593,"(km)",12),(289,656,"e",12),
              (889,217,"(°C)",12),(902,217,"temperatura",12),(889,303,"(%)",12),(902,302,"wilgotność wzgl.",13),(889,393,"(mm Hg)",12),(902,393,"ciśnienie",12),
              (889,481,"(km/h)",12),(902,481,"wiatr",12),(889,593,"(km)",12),(902,595,"widzialność",12)]:
    text(x,y,s,NAVY,sz,"center",-90)
for x0,dn,de in ((0,0,0),(600,-3,-2)):
    text(287+x0,535,"W",NAVY,14,"center")
    text(301+x0+dn,527,"N",NAVY,14,"center",-90)
    text(300+x0+dn,543,"S",NAVY,14,"center",-90)
    text(306+x0+de,535,"E",NAVY,14,"center",-90)

layout["shapes"]=shapes_below+shapes_above
layout["annotations"]=notes
for s in shapes_below: s["layer"]="below"
for s in shapes_above: s["layer"]="above"
fig.update_layout(**layout)
fig.write_html("out.html",config={"displayModeBar":False},post_script="document.body.style.margin='0';document.documentElement.style.overflow='hidden';")
